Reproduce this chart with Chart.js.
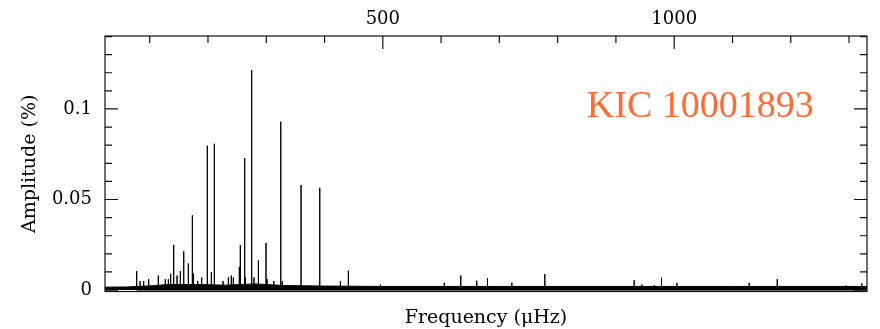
<!DOCTYPE html>
<html>
<head>
<meta charset="utf-8">
<script src="https://cdn.jsdelivr.net/npm/chart.js@4.4.1/dist/chart.umd.min.js"></script>
<style>
  html, body { margin: 0; padding: 0; background: #fff; }
  canvas { display: block; }
</style>
</head>
<body>
<canvas id="myChart" width="880" height="329"></canvas>
<script>
// peaks (frequency in uHz, amplitude in %)
var peakFreq = [77.7, 83.4, 89.7, 98.3, 114.8, 126.8, 132.0, 136.0, 141.2, 146.9,
    152.6, 158.4, 166.3, 173.2, 174.9, 182.4, 189.2, 198.9, 205.8, 210.9,
    225.8, 235.0, 240.0, 243.5, 253.8, 255.5, 263.0, 264.1, 275.0, 279.0,
    286.5, 299.6, 301.5, 312.9, 324.9, 327.5, 359.7, 391.8, 427.2, 440.9,
    496.0, 605.5, 633.8, 661.2, 679.6, 721.4, 778.0, 931.3, 944.5, 966.0,
    978.2, 1004.6, 1128.7, 1176.8, 1295.0, 1322.0];
var peakAmp = [0.0105, 0.005, 0.005, 0.006, 0.008, 0.006, 0.006, 0.009, 0.0249, 0.008,
    0.0105, 0.0214, 0.0147, 0.0413, 0.0092, 0.005, 0.007, 0.0797, 0.010, 0.0808,
    0.005, 0.007, 0.008, 0.007, 0.0127, 0.0249, 0.0729, 0.007, 0.1215, 0.007,
    0.0164, 0.026, 0.006, 0.005, 0.093, 0.005, 0.058, 0.0565, 0.005, 0.0107,
    0.003, 0.004, 0.0081, 0.0052, 0.0066, 0.004, 0.0088, 0.0055, 0.003, 0.0028,
    0.0068, 0.004, 0.004, 0.006, 0.0025, 0.0037];

// noise floor level along the spectrum
var noiseFreq = [23.3, 60, 100, 130, 180, 230, 280, 330, 400, 500, 700, 900, 1100, 1330.8];
var noiseAmp = [0.0016, 0.0017, 0.0023, 0.003, 0.0031, 0.0027, 0.0034, 0.0025, 0.0022, 0.002, 0.002, 0.002, 0.002, 0.002];

var xTickLabels = [500, 1000];
var yTickLabels = [0, 0.05, 0.1];
var starName = 'KIC 10001893';
var nameFreq = 850, nameAmp = 0.0954;

var xMin = 23.3, xMax = 1330.8;
var yMin = -0.0008, yMax = 0.1403;

var spikes = [];
for (var i = 0; i < peakFreq.length; i++) {
    spikes.push({x: peakFreq[i], y: 0});
    spikes.push({x: peakFreq[i], y: peakAmp[i]});
    spikes.push({x: peakFreq[i], y: 0});
}
var floor = [];
for (var k = 0; k < noiseFreq.length; k++) floor.push({x: noiseFreq[k], y: noiseAmp[k]});

var serif = '"DejaVu Serif", serif';

// frame with inward ticks + star name
var framePlugin = {
    id: 'frame',
    afterDraw: function (chart) {
        var ctx = chart.ctx, a = chart.chartArea;
        var xs = chart.scales.x, ys = chart.scales.y;
        ctx.save();
        ctx.strokeStyle = '#111';
        ctx.lineWidth = 1.2;
        ctx.strokeRect(a.left, a.top, a.right - a.left, a.bottom - a.top);
        ctx.beginPath();
        for (var f = 100; f < xMax; f += 100) {
            var px = xs.getPixelForValue(f);
            var len = (f % 500 === 0) ? 13 : 7;
            ctx.moveTo(px, a.top);
            ctx.lineTo(px, a.top + len);
        }
        for (var n = 0; n <= 14; n++) {
            var py = ys.getPixelForValue(n / 100);
            var l2 = (n % 5 === 0) ? 13 : 7;
            ctx.moveTo(a.left, py);
            ctx.lineTo(a.left + l2, py);
            ctx.moveTo(a.right, py);
            ctx.lineTo(a.right - l2, py);
        }
        ctx.stroke();
        ctx.fillStyle = '#ff6a35';
        ctx.font = '38px "Liberation Serif", serif';
        ctx.textAlign = 'left';
        ctx.textBaseline = 'alphabetic';
        ctx.fillText(starName, xs.getPixelForValue(nameFreq), ys.getPixelForValue(nameAmp));
        ctx.restore();
    }
};

var ctx = document.getElementById('myChart').getContext('2d');
var myChart = new Chart(ctx, {
    type: 'scatter',
    data: {
        datasets: [{
            label: 'noise',
            data: floor,
            showLine: true,
            fill: 'origin',
            backgroundColor: '#000',
            borderColor: '#000',
            borderWidth: 1,
            pointRadius: 0,
            tension: 0
        }, {
            label: 'Amplitude',
            data: spikes,
            showLine: true,
            borderColor: '#000',
            borderWidth: 1,
            pointRadius: 0,
            tension: 0
        }]
    },
    options: {
        responsive: false,
        animation: false,
        devicePixelRatio: 1,
        layout: { padding: { left: 0, right: 13, top: 0, bottom: 0 } },
        plugins: { legend: { display: false }, tooltip: { enabled: false } },
        scales: {
            x: {
                type: 'linear',
                position: 'top',
                min: xMin,
                max: xMax,
                grid: { display: false, drawTicks: false },
                border: { display: false },
                afterBuildTicks: function (s) { s.ticks = xTickLabels.map(function (v) { return {value: v}; }); },
                afterFit: function (s) { s.height = 36; },
                ticks: {
                    autoSkip: false, maxRotation: 0, padding: 6, color: '#000',
                    font: { family: serif, size: 18 },
                    callback: function (v) { return String(v); }
                }
            },
            x2: {
                type: 'linear',
                position: 'bottom',
                min: xMin,
                max: xMax,
                grid: { display: false, drawTicks: false },
                border: { display: false },
                ticks: { display: false },
                afterFit: function (s) { s.height = 37.5; },
                title: {
                    display: true, text: 'Frequency (\u03bcHz)', color: '#000',
                    font: { family: serif, size: 19 }, padding: 0
                }
            },
            y: {
                type: 'linear',
                min: yMin,
                max: yMax,
                grid: { display: false, drawTicks: false },
                border: { display: false },
                afterBuildTicks: function (s) { s.ticks = yTickLabels.map(function (v) { return {value: v}; }); },
                afterFit: function (s) { s.width = 105; },
                ticks: {
                    autoSkip: false, padding: 13, color: '#000',
                    font: { family: serif, size: 18 },
                    callback: function (v) { return String(v); }
                },
                title: {
                    display: true, text: 'Amplitude (%)', color: '#000',
                    font: { family: serif, size: 19 }, padding: { top: 19, bottom: 0 }
                }
            }
        }
    },
    plugins: [framePlugin]
});
</script>
</body>
</html>
